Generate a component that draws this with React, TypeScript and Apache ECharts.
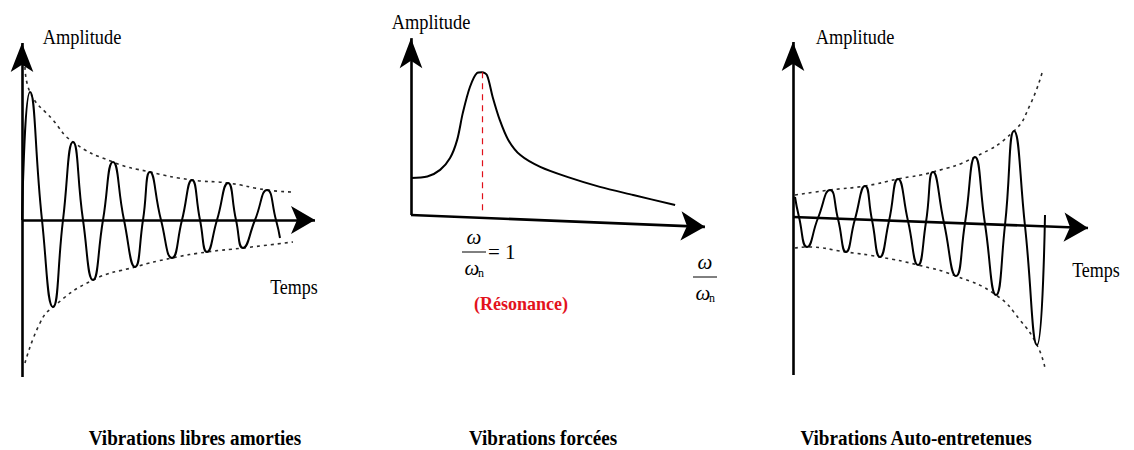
import React, { useEffect, useRef } from 'react';
import * as echarts from 'echarts';

// ---- Vibrations libres amorties: turning points and zero crossings (time, amplitude)
const dampedT = [0, 8, 20, 31, 41, 51, 61, 71, 81, 91, 102, 113, 121, 128, 139, 150, 160, 170, 178, 185, 195, 206, 214, 221, 233, 245, 254, 258];
const dampedA = [0, 128, 0, -87, 0, 78, 0, -60, 0, 58, 0, -47, 0, 48, 0, -38, 0, 40, 0, -32, 0, 37, 0, -28, 0, 30, 0, -18];
// decay envelopes
const dampedUpT = [3, 8, 31, 51, 91, 128, 170, 206, 245, 271];
const dampedUpA = [153, 128, 100, 78, 58, 48, 40, 37, 30, 28];
const dampedLowT = [3, 18, 31, 71, 113, 150, 185, 221, 271];
const dampedLowA = [-143, -103, -87, -60, -47, -38, -32, -28, -22];

// ---- Vibrations forcées: amplitude (relative to static) vs frequency ratio ω/ωn
const ratio = [0, 0.23, 0.41, 0.55, 0.65, 0.73, 0.83, 0.93, 1.0, 1.07, 1.15, 1.25, 1.37, 1.54, 1.82, 2.2, 2.66, 3.13, 3.72];
const forcedAmp = [1.0, 1.04, 1.22, 1.54, 2.03, 2.76, 3.46, 3.84, 3.86, 3.78, 3.19, 2.57, 2.03, 1.62, 1.3, 1.03, 0.76, 0.54, 0.27];
const resonanceRatio = 1;

// ---- Vibrations auto-entretenues: growing oscillation (time, amplitude)
const selfT = [2, 6, 14, 25, 37, 45, 53, 62, 72, 79, 87, 96, 105, 115, 125, 133, 140, 151, 163, 172, 182, 192, 203, 212, 221, 232, 244, 252];
const selfA = [20, 0, -30, -1, 27, -2, -35, -2, 31, -3, -40, -4, 38, -4, -48, -5, 45, -6, -59, -6, 60, -7, -78, -8, 86, -9, -128, 2];
const selfUpT = [2, 37, 72, 105, 140, 182, 221, 237, 249];
const selfUpA = [22, 27, 31, 38, 45, 60, 86, 112, 144];
const selfLowT = [2, 14, 53, 87, 125, 163, 203, 227, 244, 252];
const selfLowA = [-31, -30, -35, -40, -48, -59, -78, -103, -128, -151];

// Titles and axis names
const titles = ['Vibrations libres amorties', 'Vibrations forcées', 'Vibrations Auto-entretenues'];
const yName = 'Amplitude';
const tName = 'Temps';
const resonanceLabel = '(Résonance)';

const zip = (xs: number[], ys: number[]) => xs.map((x, i) => [x, ys[i]]);

const SERIF = '"Liberation Serif", "Times New Roman", "DejaVu Serif", serif';
const INK = '#000';
const DOT = '#2a2a2a';

const axisArrow = (from: number[], to: number[], size: number[]) => [
  { coord: from, symbol: 'none' },
  { coord: to, symbol: 'arrow', symbolSize: size },
];

const axisMark = (lines: any[]) => ({
  silent: true,
  symbol: ['none', 'arrow'],
  label: { show: false },
  emphasis: { disabled: true },
  lineStyle: { type: 'solid', color: INK, width: 2.6 },
  data: lines,
});

const curve = (data: number[][], gi: number, smooth: number) => ({
  type: 'line',
  xAxisIndex: gi,
  yAxisIndex: gi,
  data,
  smooth,
  showSymbol: false,
  symbol: 'none',
  silent: true,
  clip: false,
  lineStyle: { color: INK, width: 2 },
});

const envelope = (data: number[][], gi: number) => ({
  type: 'line',
  xAxisIndex: gi,
  yAxisIndex: gi,
  data,
  smooth: 0.5,
  showSymbol: false,
  symbol: 'none',
  silent: true,
  clip: false,
  lineStyle: { color: DOT, width: 1.6, type: [3, 4] },
});

type TextOpts = {
  fill?: string;
  scaleX?: number;
  align?: string;
  size?: number;
  weight?: string;
  italic?: boolean;
};

const text = (str: string, x: number, y: number, opts: TextOpts = {}) => ({
  type: 'text',
  x,
  y,
  scaleX: opts.scaleX ?? 1,
  silent: true,
  style: {
    text: str,
    fontFamily: SERIF,
    fontSize: opts.size ?? 20,
    fontWeight: opts.weight ?? 'normal',
    fontStyle: opts.italic ? 'italic' : 'normal',
    fill: opts.fill ?? INK,
    align: opts.align ?? 'center',
    textAlign: opts.align ?? 'center',
    verticalAlign: 'middle',
    textVerticalAlign: 'middle',
  },
});

// ω over ωn, drawn around the fraction bar centre
const fraction = (cx: number, cy: number) => [
  text('ω', cx, cy - 15, { size: 21, italic: true }),
  {
    type: 'line',
    silent: true,
    shape: { x1: cx - 12, y1: cy, x2: cx + 12, y2: cy },
    style: { stroke: INK, lineWidth: 1 },
  },
  text('ω', cx - 2, cy + 16, { size: 21, italic: true }),
  text('n', cx + 7, cy + 21, { size: 12 }),
];

export default function App() {
  const ref = useRef<HTMLDivElement>(null);

  useEffect(() => {
    if (!ref.current) return;
    const chart = echarts.init(ref.current, undefined, { renderer: 'svg' });

    const peakAmp = forcedAmp[ratio.indexOf(resonanceRatio)];

    const option: any = {
      animation: false,
      backgroundColor: '#fff',
      grid: [
        { left: 22, top: 40, width: 300, height: 340 },
        { left: 411, top: 30, width: 319.5, height: 222 },
        { left: 793, top: 37, width: 300, height: 340 },
      ],
      xAxis: [
        { type: 'value', gridIndex: 0, min: 0, max: 300, show: false },
        { type: 'value', gridIndex: 1, min: 0, max: 4.5, show: false },
        { type: 'value', gridIndex: 2, min: 0, max: 300, show: false },
      ],
      yAxis: [
        { type: 'value', gridIndex: 0, min: -160, max: 180, show: false },
        { type: 'value', gridIndex: 1, min: -1, max: 5, show: false },
        { type: 'value', gridIndex: 2, min: -160, max: 180, show: false },
      ],
      series: [
        // free damped vibration
        envelope(zip(dampedUpT, dampedUpA), 0),
        envelope(zip(dampedLowT, dampedLowA), 0),
        {
          ...curve(zip(dampedT, dampedA), 0, 0.55),
          markLine: axisMark([
            axisArrow([0, -157], [0, 177], [17, 29]),
            axisArrow([0, 0], [293, 0], [21, 24]),
          ]),
        },
        // forced vibration
        {
          ...curve(zip(ratio, forcedAmp), 1, 0.3),
          markLine: axisMark([
            axisArrow([0, 0], [0, 4.78], [17, 30]),
            axisArrow([0, 0], [4.14, -0.32], [22, 24]),
          ]),
        },
        {
          type: 'line',
          xAxisIndex: 1,
          yAxisIndex: 1,
          data: [],
          silent: true,
          markLine: {
            silent: true,
            symbol: ['none', 'none'],
            label: { show: false },
            emphasis: { disabled: true },
            lineStyle: { type: [6, 5], color: '#e0101a', width: 1.2 },
            data: [[{ coord: [resonanceRatio, peakAmp] }, { coord: [resonanceRatio, 0] }]],
          },
        },
        // self-excited vibration
        envelope(zip(selfUpT, selfUpA), 2),
        envelope(zip(selfLowT, selfLowA), 2),
        {
          ...curve(zip(selfT, selfA), 2, 0.55),
          markLine: axisMark([
            axisArrow([0, -158], [0, 175], [17, 29]),
            axisArrow([0, 0], [295, -11], [22, 24]),
          ]),
        },
      ],
      graphic: [
        text(yName, 82, 37, { scaleX: 0.92 }),
        text(yName, 431, 22, { scaleX: 0.92 }),
        text(yName, 855, 37, { scaleX: 0.92 }),
        text(tName, 294, 287, { scaleX: 0.9 }),
        text(tName, 1096, 270, { scaleX: 0.9 }),
        ...fraction(474, 252),
        text('= 1', 488, 252, { align: 'left', size: 21 }),
        text(resonanceLabel, 521, 303, { size: 19, weight: 'bold', fill: '#e3121c', scaleX: 0.95 }),
        ...fraction(705, 277),
        text(titles[0], 195, 438, { size: 22, weight: 'bold', scaleX: 0.87 }),
        text(titles[1], 543, 438, { size: 22, weight: 'bold', scaleX: 0.87 }),
        text(titles[2], 916, 438, { size: 22, weight: 'bold', scaleX: 0.87 }),
      ],
    };

    chart.setOption(option);
    return () => chart.dispose();
  }, []);

  return (
    <div
      ref={ref}
      style={{ position: 'fixed', left: 0, top: 0, width: 1134, height: 450, background: '#fff' }}
    />
  );
}
